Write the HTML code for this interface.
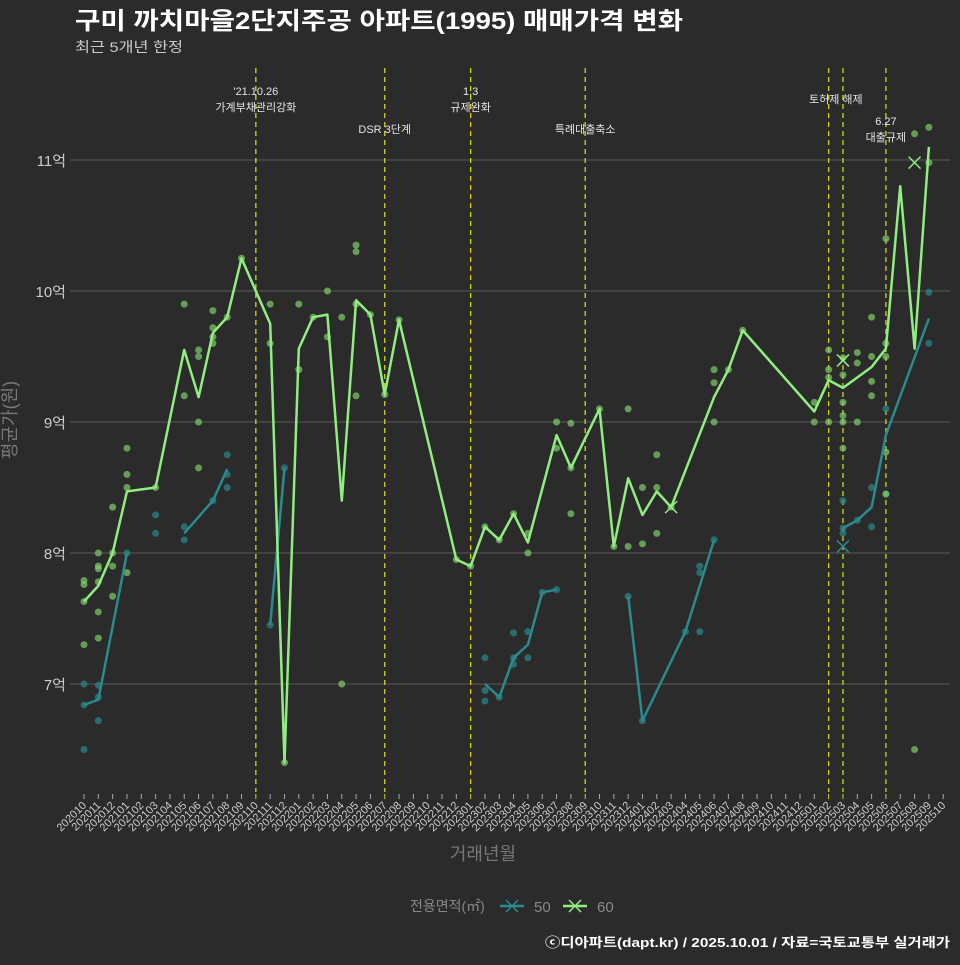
<!DOCTYPE html>
<html><head><meta charset="utf-8">
<style>
html,body{margin:0;padding:0;background:#2b2b2b;}
body{width:960px;height:960px;overflow:hidden;font-family:"Liberation Sans","Noto Sans CJK KR",sans-serif;}
</style></head>
<body>
<svg id="chart" width="960" height="960" xmlns="http://www.w3.org/2000/svg" style="font-family:'Liberation Sans','Noto Sans CJK KR',sans-serif">
<rect x="0" y="0" width="960" height="960" fill="#2b2b2b"/>
<text x="75" y="29" fill="#ffffff" font-size="24" font-weight="bold" textLength="608" lengthAdjust="spacingAndGlyphs">구미 까치마을2단지주공 아파트(1995) 매매가격 변화</text>
<text x="75" y="52" fill="#cccccc" font-size="14" textLength="108" lengthAdjust="spacingAndGlyphs">최근 5개년 한정</text>
<g id="grid"></g>
<g id="vlines"></g>
<g id="points"></g>
<g id="lines"></g>
<g id="xaxis"></g>
<text x="16" y="420" fill="#777" font-size="18" text-anchor="middle" transform="rotate(-90 16 420)">평균가(원)</text>
<text x="483" y="860" fill="#777" font-size="18" text-anchor="middle">거래년월</text>
<g>
<text x="410" y="911" fill="#888" font-size="14">전용면적(㎡)</text>
<g>
<line x1="500" y1="906" x2="524" y2="906" stroke="#2a8a8c" stroke-width="2.5"/>
<path d="M506 900 L518 912 M518 900 L506 912" stroke="#2a8a8c" stroke-width="1.5"/>
<text x="534" y="912" fill="#888" font-size="15">50</text></g>
<g>
<line x1="563" y1="906" x2="587" y2="906" stroke="#90ee80" stroke-width="2.5"/>
<path d="M569 900 L581 912 M581 900 L569 912" stroke="#90ee80" stroke-width="1.5"/>
<text x="597" y="912" fill="#888" font-size="15">60</text></g>
</g>
<text x="545" y="947" fill="#ffffff" font-size="13" font-weight="bold" textLength="405" lengthAdjust="spacingAndGlyphs">ⓒ디아파트(dapt.kr) / 2025.10.01 / 자료=국토교통부 실거래가</text>
</svg>
<script>
// data
const yTicks = [7, 8, 9, 10, 11];
const eventMonths = [12, 21, 27, 35, 52, 53, 56];
const eventLabels = [["'21.10.26","가계부채관리강화"],["","DSR 3단계"],["1.3","규제완화"],["","특례대출축소"],["토허제 해제",""],["",""],["6.27","대출규제"]];
const line60Idx = [0,1,2,3,5,7,8,9,10,11,13,14,15,16,17,18,19,20,21,22,26,27,28,29,30,31,33,34,36,37,38,39,40,41,44,45,46,51,52,53,55,56,57,58,59];
const line60Val = [7.63,7.75,8.0,8.47,8.50,9.55,9.19,9.68,9.80,10.25,9.75,6.40,9.56,9.80,9.82,8.40,9.93,9.82,9.21,9.78,7.95,7.90,8.20,8.10,8.30,8.08,8.90,8.65,9.10,8.05,8.57,8.29,8.47,8.35,9.19,9.40,9.70,9.08,9.32,9.26,9.42,9.56,10.80,9.56,11.10];
const line50Seg = [[0,1,3],[7,9,10],[13,14],[28,29,30,31,32,33],[38,39,42,43,44],[53,54,55,56,59]];
const line50Val = [[6.84,6.88,8.0],[8.15,8.40,8.64],[7.45,8.65],[7.0,6.90,7.20,7.30,7.70,7.72],[7.67,6.72,7.40,7.75,8.10],[8.19,8.25,8.35,8.90,9.79]];
const pts60Idx = [0,0,0,0,1,1,1,1,1,1,2,2,2,2,3,3,3,3,5,7,7,8,8,8,8,9,9,9,9,10,11,13,13,14,15,15,16,17,17,18,18,19,19,19,19,20,21,22,26,27,28,29,30,31,31,33,33,34,34,34,36,37,38,38,39,39,40,40,40,41,44,44,44,45,46,51,51,52,52,52,52,53,53,53,53,53,53,54,54,54,55,55,55,55,56,56,56,56,56,58,58,59,59];
const pts60Val = [7.79,7.76,7.63,7.30,8.0,7.90,7.88,7.78,7.55,7.35,8.35,8.0,7.9,7.67,8.80,8.60,8.50,7.85,8.5,9.90,9.20,9.55,9.50,9.0,8.65,9.85,9.72,9.65,9.60,9.80,10.25,9.90,9.60,6.40,9.90,9.40,9.80,10.0,9.65,9.80,7.0,10.35,10.30,9.90,9.20,9.82,9.21,9.78,7.95,7.9,8.2,8.1,8.3,8.15,8.0,9.0,8.80,8.99,8.65,8.30,9.10,8.05,9.10,8.05,8.50,8.07,8.75,8.50,8.15,8.35,9.40,9.30,9.0,9.40,9.70,9.15,9.0,9.55,9.40,9.34,9.0,9.49,9.36,9.15,9.05,9.0,8.80,9.53,9.45,9.0,9.80,9.50,9.31,9.20,10.40,9.60,9.50,8.77,8.45,11.20,6.50,11.25,10.98];
const pts50Idx = [0,0,0,1,1,1,3,5,5,7,7,9,10,10,10,13,14,28,28,28,29,30,30,30,31,31,32,33,38,39,42,43,43,43,44,53,53,53,54,55,55,56,56,59,59];
const pts50Val = [7.0,6.84,6.50,6.99,6.90,6.72,8.0,8.29,8.15,8.20,8.10,8.40,8.75,8.60,8.50,7.45,8.65,7.20,6.95,6.87,6.9,7.39,7.20,7.15,7.40,7.20,7.7,7.72,7.67,6.72,7.40,7.90,7.85,7.40,8.10,8.40,8.19,8.15,8.25,8.50,8.20,9.10,8.45,9.99,9.60];
const cross60Idx = [41,53,58];
const cross60Val = [8.35,9.47,10.98];
const cross50Idx = [53];
const cross50Val = [8.05];

const NS = "http://www.w3.org/2000/svg";
const X0 = 84, DX = 14.32, Y11 = 160, DY = 131, LEFT = 70, RIGHT = 950, TOP = 68, BOT = 792;
function xs(i){ return X0 + DX * i; }
function ys(v){ return Y11 + (11 - v) * DY; }
function mk(tag, attrs, parent){ const e = document.createElementNS(NS, tag); for (const k in attrs) e.setAttribute(k, attrs[k]); parent.appendChild(e); return e; }
function ymLabel(i){ const m = 10 + i; const y = 2020 + Math.floor((m - 1) / 12); const mm = ((m - 1) % 12) + 1; return y + "" + (mm < 10 ? "0" + mm : mm); }

const grid = document.getElementById('grid');
yTicks.forEach(v => {
  const l = mk('line', {x1: LEFT, x2: RIGHT, y1: ys(v), y2: ys(v), stroke: '#5a5a5a', 'stroke-width': 1}, grid);
  
  
  const t = mk('text', {x: 66, y: ys(v) + 6, fill: '#cccccc', 'font-size': 15, 'text-anchor': 'end'}, grid);
  
  
  t.textContent = v + '억';
});

const vl = document.getElementById('vlines');
eventMonths.forEach((m, k) => {
  const l = mk('line', {x1: xs(m), x2: xs(m), y1: TOP, y2: BOT, stroke: '#d4d41a', 'stroke-width': 1.3, 'stroke-dasharray': '5,4'}, vl);
  
  
  const lab = eventLabels[k];
  let cx = xs(m);
  if (m === 52) cx = (xs(52) + xs(53)) / 2;
  const baseY = (lab[0] === '' ) ? 133 : (m === 56 ? 125 : (m === 52 ? 103 : 95));
  if (lab[0] !== '') {
    const t1 = mk('text', {x: cx, y: baseY, fill: '#e6e6e6', 'font-size': 11, 'text-anchor': 'middle'}, vl);
    
    
    t1.textContent = lab[0];
  }
  if (lab[1] !== '') {
    const t2 = mk('text', {x: cx, y: lab[0] === '' ? baseY : baseY + 16, fill: '#e6e6e6', 'font-size': 11, 'text-anchor': 'middle'}, vl);
    
    
    t2.textContent = lab[1];
  }
});

const xa = document.getElementById('xaxis');
for (let i = 0; i <= 60; i++) {
  const isEv = eventMonths.indexOf(i) >= 0;
  const tk = mk('line', {x1: xs(i), x2: xs(i), y1: 794, y2: 799, stroke: isEv ? '#d4d41a' : '#aaa', 'stroke-width': 1}, xa);
  
  
  const t = mk('text', {x: xs(i) + 3, y: 806, fill: '#cccccc', 'font-size': 11, 'text-anchor': 'end', transform: 'rotate(-45 ' + (xs(i) + 3) + ' 806)'}, xa);
  
  
  t.textContent = ymLabel(i);
}

const pg = document.getElementById('points');
pts50Idx.forEach((m, k) => {
  const c = mk('circle', {cx: xs(m), cy: ys(pts50Val[k]), r: 3.5, fill: '#2a8a8c', 'fill-opacity': 0.7}, pg);
  
  
});
pts60Idx.forEach((m, k) => {
  const c = mk('circle', {cx: xs(m), cy: ys(pts60Val[k]), r: 3.5, fill: '#7fcf6a', 'fill-opacity': 0.7}, pg);
  
  
});

const lg = document.getElementById('lines');
line50Seg.forEach((seg, s) => {
  const d = seg.map((m, k) => (k ? 'L' : 'M') + xs(m).toFixed(1) + ' ' + ys(line50Val[s][k]).toFixed(1)).join(' ');
  const p = mk('path', {d: d, fill: 'none', stroke: '#2a8a8c', 'stroke-width': 2.5, 'stroke-linejoin': 'round'}, lg);
  
  
});
{
  const d = line60Idx.map((m, k) => (k ? 'L' : 'M') + xs(m).toFixed(1) + ' ' + ys(line60Val[k]).toFixed(1)).join(' ');
  const p = mk('path', {d: d, fill: 'none', stroke: '#90ee80', 'stroke-width': 2.5, 'stroke-linejoin': 'round'}, lg);
  
  
}
function cross(x, y, col, name){
  const p = mk('path', {d: 'M' + (x-6) + ' ' + (y-6) + ' L' + (x+6) + ' ' + (y+6) + ' M' + (x+6) + ' ' + (y-6) + ' L' + (x-6) + ' ' + (y+6), stroke: col, 'stroke-width': 1.5}, lg);
  
  
}
cross50Idx.forEach((m, k) => cross(xs(m), ys(cross50Val[k]), '#2a8a8c', 'marker-50'));
cross60Idx.forEach((m, k) => cross(xs(m), ys(cross60Val[k]), '#90ee80', 'marker-60'));
</script>
</body></html>
